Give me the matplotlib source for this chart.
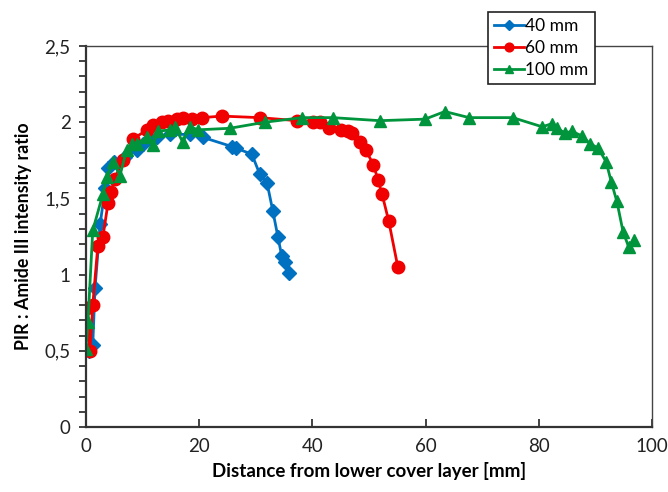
import matplotlib
matplotlib.use("Agg")
import matplotlib.pyplot as plt
from matplotlib.ticker import MultipleLocator, FuncFormatter

plt.rcParams['font.family'] = ['Lato', 'DejaVu Sans']

# Distance from lower cover layer [mm] and PIR : Amide III intensity ratio
x_40 = [0.6, 1.2, 1.6, 2.5, 3.4, 3.9, 5.0, 6.9, 9.0, 10.1, 12.5, 14.8, 18.4, 20.7,
        25.8, 26.5, 29.3, 30.7, 32.0, 33.0, 33.9, 34.6, 35.2, 35.9]
y_40 = [0.50, 0.54, 0.91, 1.33, 1.57, 1.70, 1.74, 1.77, 1.82, 1.86, 1.90, 1.92, 1.92, 1.90,
        1.84, 1.83, 1.79, 1.66, 1.60, 1.42, 1.25, 1.12, 1.08, 1.01]

x_60 = [0.2, 0.7, 1.2, 2.1, 3.0, 3.9, 4.4, 5.1, 6.5, 8.3, 10.8, 11.8, 13.4, 14.5, 16.1,
        17.1, 18.7, 20.5, 24.0, 30.7, 37.3, 40.1, 41.3, 43.0, 45.0, 46.3, 47.0, 48.4,
        49.4, 50.8, 51.6, 52.3, 53.5, 55.1]
y_60 = [0.78, 0.50, 0.80, 1.19, 1.25, 1.47, 1.54, 1.63, 1.75, 1.89, 1.95, 1.98, 2.00, 2.01,
        2.02, 2.03, 2.02, 2.03, 2.04, 2.03, 2.01, 2.00, 2.00, 1.96, 1.95, 1.94, 1.93, 1.87,
        1.82, 1.72, 1.62, 1.53, 1.35, 1.05]

x_100 = [0.0, 0.35, 1.2, 3.0, 3.7, 4.8, 6.0, 7.2, 8.1, 9.0, 10.8, 11.8, 12.7, 14.8, 15.7,
         17.1, 18.4, 19.8, 25.4, 31.6, 38.2, 43.6, 51.9, 59.9, 63.4, 67.7, 75.4, 80.6,
         82.3, 83.2, 84.6, 85.9, 87.6, 89.0, 90.5, 91.9, 92.8, 93.8, 94.9, 95.9, 96.8]
y_100 = [0.51, 0.69, 1.29, 1.53, 1.64, 1.74, 1.65, 1.82, 1.86, 1.86, 1.90, 1.85, 1.94, 1.95,
         1.97, 1.87, 1.97, 1.95, 1.96, 2.00, 2.03, 2.03, 2.01, 2.02, 2.07, 2.03, 2.03, 1.97,
         1.99, 1.96, 1.93, 1.94, 1.91, 1.86, 1.83, 1.74, 1.61, 1.48, 1.28, 1.18, 1.23]

labels = ["40 mm", "60 mm", "100 mm"]
colors = ["#0070C0", "#F00000", "#00943C"]

fig = plt.figure(figsize=(6.68, 4.92), dpi=100)
ax = fig.add_axes([0.1287, 0.1321, 0.8473, 0.7744])

ax.plot(x_40, y_40, color=colors[0], lw=2.0, marker='D', ms=7, label=labels[0])
ax.plot(x_60, y_60, color=colors[1], lw=2.0, marker='o', ms=9, label=labels[1])
ax.plot(x_100, y_100, color=colors[2], lw=2.0, marker='^', ms=9, label=labels[2])

ax.set_xlim(0, 100)
ax.set_ylim(0, 2.5)
ax.xaxis.set_major_locator(MultipleLocator(20))
ax.yaxis.set_major_locator(MultipleLocator(0.5))
ax.yaxis.set_minor_locator(MultipleLocator(0.1))
ax.yaxis.set_major_formatter(FuncFormatter(lambda v, p: f"{v:g}".replace('.', ',')))

ax.tick_params(axis='x', direction='in', length=6, width=1.2, labelsize=13.5, pad=8,
               colors='#222222')
ax.tick_params(axis='y', which='both', direction='out', length=5, width=1.2,
               labelsize=13.5, pad=6, colors='#222222')

for side in ['left', 'bottom']:
    ax.spines[side].set_linewidth(1.6)
    ax.spines[side].set_color('#333333')
for side in ['top', 'right']:
    ax.spines[side].set_linewidth(1.0)
    ax.spines[side].set_color('#444444')

ax.set_xlabel("Distance from lower cover layer [mm]", fontsize=13.5, fontweight='bold',
              labelpad=5)
ax.set_ylabel("PIR : Amide III intensity ratio", fontsize=12.8, fontweight='bold',
              labelpad=9)

leg = ax.legend(loc='upper left', bbox_to_anchor=(0.7305, 0.9756),
                bbox_transform=fig.transFigure, borderaxespad=0, fontsize=12.5,
                frameon=True, fancybox=False, handlelength=1.7, handletextpad=0.1,
                markerscale=0.7, labelspacing=0.35, borderpad=0.35)
leg.get_frame().set_edgecolor('#222222')
leg.get_frame().set_linewidth(1.2)
leg.get_frame().set_alpha(1)

fig.savefig("out.png", dpi=100)
